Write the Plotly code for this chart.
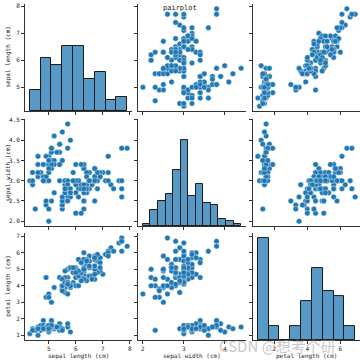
import numpy as np
import plotly.graph_objects as go

sepal_length = [5.1,4.9,4.7,4.6,5.0,5.4,4.6,5.0,4.4,4.9,5.4,4.8,4.8,4.3,5.8,5.7,5.4,5.1,5.7,5.1,
                5.4,5.1,4.6,5.1,4.8,5.0,5.0,5.2,5.2,4.7,4.8,5.4,5.2,5.5,4.9,5.0,5.5,4.9,4.4,5.1,
                5.0,4.5,4.4,5.0,5.1,4.8,5.1,4.6,5.3,5.0,
                7.0,6.4,6.9,5.5,6.5,5.7,6.3,4.9,6.6,5.2,5.0,5.9,6.0,6.1,5.6,6.7,5.6,5.8,6.2,5.6,
                5.9,6.1,6.3,6.1,6.4,6.6,6.8,6.7,6.0,5.7,5.5,5.5,5.8,6.0,5.4,6.0,6.7,6.3,5.6,5.5,
                5.5,6.1,5.8,5.0,5.6,5.7,5.7,6.2,5.1,5.7,
                6.3,5.8,7.1,6.3,6.5,7.6,4.9,7.3,6.7,7.2,6.5,6.4,6.8,5.7,5.8,6.4,6.5,7.7,7.7,6.0,
                6.9,5.6,7.7,6.3,6.7,7.2,6.2,6.1,6.4,7.2,7.4,7.9,6.4,6.3,6.1,7.7,6.3,6.4,6.0,6.9,
                6.7,6.9,5.8,6.8,6.7,6.7,6.3,6.5,6.2,5.9]
sepal_width = [3.5,3.0,3.2,3.1,3.6,3.9,3.4,3.4,2.9,3.1,3.7,3.4,3.0,3.0,4.0,4.4,3.9,3.5,3.8,3.8,
               3.4,3.7,3.6,3.3,3.4,3.0,3.4,3.5,3.4,3.2,3.1,3.4,4.1,4.2,3.1,3.2,3.5,3.6,3.0,3.4,
               3.5,2.3,3.2,3.5,3.8,3.0,3.8,3.2,3.7,3.3,
               3.2,3.2,3.1,2.3,2.8,2.8,3.3,2.4,2.9,2.7,2.0,3.0,2.2,2.9,2.9,3.1,3.0,2.7,2.2,2.5,
               3.2,2.8,2.5,2.8,2.9,3.0,2.8,3.0,2.9,2.6,2.4,2.4,2.7,2.7,3.0,3.4,3.1,2.3,3.0,2.5,
               2.6,3.0,2.6,2.3,2.7,3.0,2.9,2.9,2.5,2.8,
               3.3,2.7,3.0,2.9,3.0,3.0,2.5,2.9,2.5,3.6,3.2,2.7,3.0,2.5,2.8,3.2,3.0,3.8,2.6,2.2,
               3.2,2.8,2.8,2.7,3.3,3.2,2.8,3.0,2.8,3.0,2.8,3.8,2.8,2.8,2.6,3.0,3.4,3.1,3.0,3.1,
               3.1,3.1,2.7,3.2,3.3,3.0,2.5,3.0,3.4,3.0]
petal_length = [1.4,1.4,1.3,1.5,1.4,1.7,1.4,1.5,1.4,1.5,1.5,1.6,1.4,1.1,1.2,1.5,1.3,1.4,1.7,1.5,
                1.7,1.5,1.0,1.7,1.9,1.6,1.6,1.5,1.4,1.6,1.6,1.5,1.5,1.4,1.5,1.2,1.3,1.4,1.3,1.5,
                1.3,1.3,1.3,1.6,1.9,1.4,1.6,1.4,1.5,1.4,
                4.7,4.5,4.9,4.0,4.6,4.5,4.7,3.3,4.6,3.9,3.5,4.2,4.0,4.7,3.6,4.4,4.5,4.1,4.5,3.9,
                4.8,4.0,4.9,4.7,4.3,4.4,4.8,5.0,4.5,3.5,3.8,3.7,3.9,5.1,4.5,4.5,4.7,4.4,4.1,4.0,
                4.4,4.6,4.0,3.3,4.2,4.2,4.2,4.3,3.0,4.1,
                6.0,5.1,5.9,5.6,5.8,6.6,4.5,6.3,5.8,6.1,5.1,5.3,5.5,5.0,5.1,5.3,5.5,6.7,6.9,5.0,
                5.7,4.9,6.7,4.9,5.7,6.0,4.8,4.9,5.6,5.8,6.1,6.4,5.6,5.1,5.6,6.1,5.6,5.5,4.8,5.4,
                5.6,5.1,5.1,5.9,5.7,5.2,5.0,5.2,5.4,5.1]

var_names = ["sepal length (cm)", "sepal width (cm)", "petal length (cm)"]
x_tick_vals = [[5, 6, 7, 8], [2, 3, 4], [2, 4, 6]]
x_tick_text = [["5", "6", "7", "8"], ["2", "3", "4"], ["2", "4", "6"]]
y_tick_vals = [[5, 6, 7, 8], [2.0, 2.5, 3.0, 3.5, 4.0, 4.5], [1, 2, 3, 4, 5, 6, 7]]
y_tick_text = [["5", "6", "7", "8"], ["2.0", "2.5", "3.0", "3.5", "4.0", "4.5"],
               ["1", "2", "3", "4", "5", "6", "7"]]
title_text = "pairplot"
watermark = "CSDN @想考个研"

data = [sepal_length, sepal_width, petal_length]

W, H = 360, 363
col_px = [(25, 132), (138, 246), (253, 360)]
row_px = [(1, 109), (117, 225), (232, 340)]

def xd(a, b):
    return [a / W, b / W]

def yd(a, b):
    return [1 - b / H, 1 - a / H]

def rng(v):
    lo, hi = min(v), max(v)
    s = hi - lo
    return [lo - 0.05 * s, hi + 0.05 * s]

BLUE = "#1f77b4"
mono = "DejaVu Sans Mono"
fig = go.Figure()
layout = {}

hists = []
for i in range(3):
    counts, edges = np.histogram(np.array(data[i]), bins="auto")
    hists.append((counts, edges))
hmax = max(c.max() for c, _ in hists) * 1.05

# histogram subplots (independent invisible axes sharing the diagonal cell)
for i in range(3):
    hk = 10 + i
    counts, edges = hists[i]
    centers = (edges[:-1] + edges[1:]) / 2
    widths = np.diff(edges)
    layout[f"xaxis{hk}"] = dict(domain=xd(*col_px[i]), anchor=f"y{hk}", range=rng(data[i]),
                                visible=False, showgrid=False, zeroline=False)
    layout[f"yaxis{hk}"] = dict(domain=yd(*row_px[i]), anchor=f"x{hk}", range=[0, hmax],
                                visible=False, showgrid=False, zeroline=False)
    fig.add_trace(go.Bar(
        x=centers, y=counts, width=widths, xaxis=f"x{hk}", yaxis=f"y{hk}",
        marker=dict(color="rgba(31,119,180,0.75)", line=dict(color="#1a1a1a", width=1)),
        showlegend=False, hoverinfo="skip"))

for r in range(3):
    for c in range(3):
        k = r * 3 + c + 1
        xa = "x" if k == 1 else f"x{k}"
        ya = "y" if k == 1 else f"y{k}"
        xkey = "xaxis" if k == 1 else f"xaxis{k}"
        ykey = "yaxis" if k == 1 else f"yaxis{k}"
        layout[xkey] = dict(
            domain=xd(*col_px[c]), anchor=ya, range=rng(data[c]),
            tickvals=x_tick_vals[c], ticktext=x_tick_text[c],
            showticklabels=(r == 2), showgrid=False, zeroline=False,
            showline=True, linecolor="#333", linewidth=1,
            ticks="outside", ticklen=3, tickwidth=1, tickcolor="#333",
            tickfont=dict(family=mono, size=6, color="#222"),
        )
        layout[ykey] = dict(
            domain=yd(*row_px[r]), anchor=xa, range=rng(data[r]),
            tickvals=y_tick_vals[r], ticktext=y_tick_text[r],
            showticklabels=(c == 0), showgrid=False, zeroline=False,
            showline=True, linecolor="#333", linewidth=1,
            ticks="outside", ticklen=3, tickwidth=1, tickcolor="#333",
            tickfont=dict(family=mono, size=6, color="#222"),
        )
        if r != c:
            fig.add_trace(go.Scatter(
                x=data[c], y=data[r], mode="markers", xaxis=xa, yaxis=ya,
                marker=dict(color=BLUE, size=5.5, line=dict(color="white", width=0.4)),
                showlegend=False, hoverinfo="skip"))
        else:
            fig.add_trace(go.Scatter(x=[], y=[], mode="markers", xaxis=xa, yaxis=ya,
                                     showlegend=False, hoverinfo="skip"))

annotations = []
for i in range(3):
    cy = (row_px[i][0] + row_px[i][1]) / 2
    annotations.append(dict(x=8 / W, y=1 - cy / H, xref="paper", yref="paper",
                            text=var_names[i], textangle=-90, showarrow=False,
                            font=dict(family=mono, size=6, color="#222"),
                            xanchor="center", yanchor="middle"))
    cx = (col_px[i][0] + col_px[i][1]) / 2
    annotations.append(dict(x=cx / W, y=1 - 356 / H, xref="paper", yref="paper",
                            text=var_names[i], showarrow=False,
                            font=dict(family=mono, size=6, color="#222"),
                            xanchor="center", yanchor="middle"))
annotations.append(dict(x=180 / W, y=1 - 5 / H, xref="paper", yref="paper",
                        text=title_text, showarrow=False,
                        font=dict(family=mono, size=7, color="#111"),
                        xanchor="center", yanchor="middle"))
annotations.append(dict(x=277 / W, y=1 - 345 / H, xref="paper", yref="paper",
                        text=watermark, showarrow=False,
                        font=dict(family="Noto Sans CJK SC", size=15, color="rgba(150,150,150,0.55)"),
                        xanchor="center", yanchor="middle"))

fig.update_layout(
    width=W, height=H, margin=dict(l=0, r=0, t=0, b=0),
    paper_bgcolor="white", plot_bgcolor="rgba(0,0,0,0)",
    bargap=0, showlegend=False, annotations=annotations)
fig.update_layout(layout)

fig.write_html("out.html", config={"displayModeBar": False},
               post_script="document.body.style.margin='0';document.body.style.padding='0';")
